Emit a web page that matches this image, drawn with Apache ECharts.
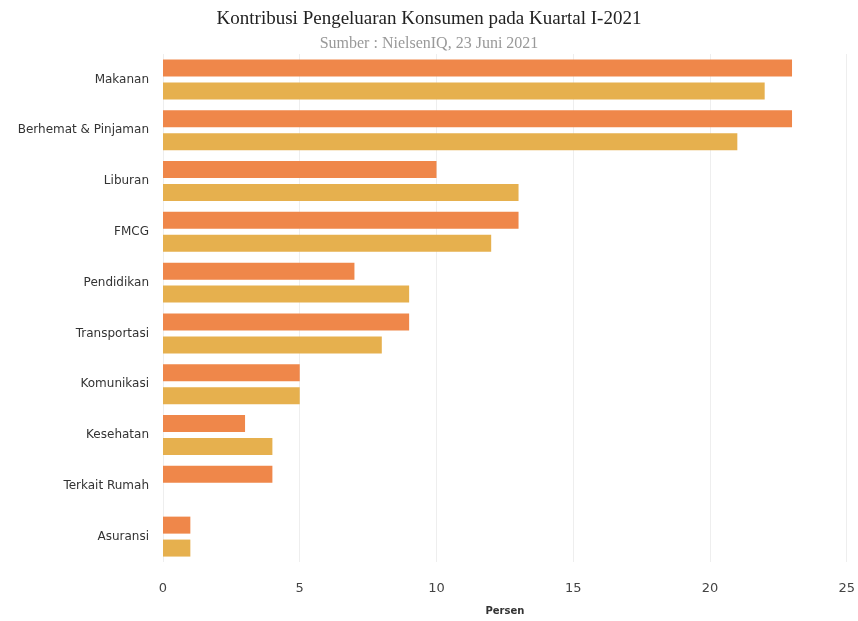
<!DOCTYPE html>
<html><head><meta charset="utf-8">
<script src="https://cdn.jsdelivr.net/npm/echarts@6/dist/echarts.min.js"></script>
<style>html,body{margin:0;padding:0;background:#fff}#c{width:858px;height:621px}</style>
</head><body><div id="c"></div>
<script>
const categories = ["Makanan","Berhemat & Pinjaman","Liburan","FMCG","Pendidikan","Transportasi","Komunikasi","Kesehatan","Terkait Rumah","Asuransi"];
const series1 = [23,23,10,13,7,9,5,3,4,1];
const series2 = [22,21,13,12,9,8,5,4,null,1];
const xTicks = {min:0,max:25,interval:5};

const chart = echarts.init(document.getElementById('c'));
chart.setOption({
  animation:false,
  title:{
    text:'Kontribusi Pengeluaran Konsumen pada Kuartal I-2021',
    subtext:'Sumber : NielsenIQ, 23 Juni 2021',
    left:'center', top:5, itemGap:7,
    textStyle:{fontFamily:'Liberation Serif',fontSize:19,fontWeight:'normal',color:'#222'},
    subtextStyle:{fontFamily:'Liberation Serif',fontSize:16,color:'#999'}
  },
  grid:{left:163,right:10,top:54,bottom:55,containLabel:false},
  xAxis:{type:'value',min:xTicks.min,max:xTicks.max,interval:xTicks.interval,
    name:'Persen',nameLocation:'middle',nameGap:44,
    nameTextStyle:{fontSize:10,fontWeight:'bold',color:'#333',fontFamily:'DejaVu Sans'},
    axisLine:{show:false},axisTick:{show:false},
    axisLabel:{color:'#444',fontSize:13,margin:20,fontFamily:'DejaVu Sans'},
    splitLine:{show:true,lineStyle:{color:'#eeeeee'}}
  },
  yAxis:{type:'category',data:categories,inverse:true,
    axisLine:{show:false},axisTick:{show:false},
    axisLabel:{color:'#333',fontSize:12,margin:14,fontFamily:'DejaVu Sans'}
  },
  series:[
    {type:'bar',data:series1,itemStyle:{color:'#EF874A'},barWidth:17,barGap:'35%'},
    {type:'bar',data:series2,itemStyle:{color:'#E6B04E'},barWidth:17,barGap:'35%'}
  ]
});
</script></body></html>
